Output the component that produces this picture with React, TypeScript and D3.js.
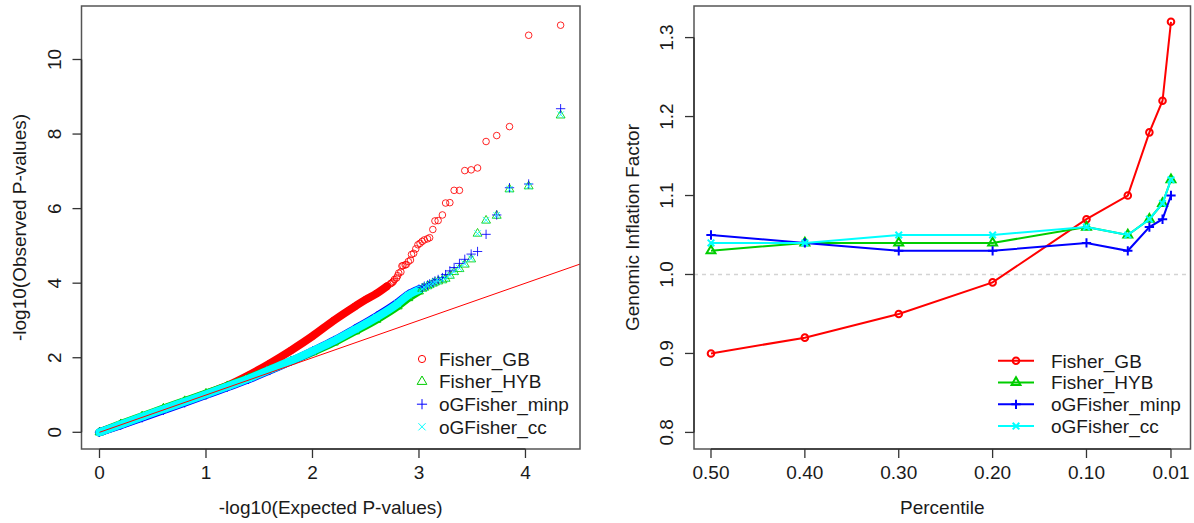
import React from "react";
import * as d3 from "d3";

// ---------- DATA ----------
const seriesNames = ["Fisher_GB", "Fisher_HYB", "oGFisher_minp", "oGFisher_cc"];
const seriesColors = ["#FF0000", "#00CD00", "#0000FF", "#00FFFF"];

// Left panel (QQ plot): dense bulk read along each band
const gbBulkExp = [0, 0.2, 0.4, 0.6, 0.8, 1.0, 1.2, 1.4, 1.6, 1.8, 2.0, 2.2, 2.4, 2.5, 2.6, 2.7];
const gbBulkObs = [0, 0.2, 0.41, 0.62, 0.82, 1.03, 1.25, 1.53, 1.85, 2.2, 2.58, 3.0, 3.38, 3.56, 3.72, 3.92];

const othBulkExp = [0, 0.2, 0.4, 0.6, 0.8, 1.0, 1.2, 1.4, 1.6, 1.8, 2.0, 2.2, 2.4, 2.6, 2.8, 2.9, 3.0];
const hybBulkObs = [0, 0.22, 0.43, 0.64, 0.84, 1.04, 1.24, 1.45, 1.68, 1.91, 2.15, 2.41, 2.71, 3.02, 3.38, 3.6, 3.78];
const minpBulkObs = [0, 0.19, 0.39, 0.59, 0.79, 1.0, 1.21, 1.42, 1.66, 1.91, 2.18, 2.46, 2.78, 3.11, 3.48, 3.7, 3.84];
const ccBulkObs = [0, 0.21, 0.42, 0.62, 0.82, 1.02, 1.23, 1.44, 1.68, 1.92, 2.18, 2.45, 2.76, 3.08, 3.45, 3.68, 3.82];

// Left panel: individually visible tail points
const tailExp = [4.33, 4.03, 3.85, 3.73, 3.63, 3.55, 3.49, 3.43, 3.38, 3.33, 3.29, 3.25, 3.22, 3.18, 3.15, 3.13, 3.10, 3.08, 3.05, 3.03,
  3.01, 2.99, 2.97, 2.95, 2.93, 2.92, 2.90, 2.88, 2.87, 2.85, 2.84, 2.83, 2.81, 2.80, 2.79, 2.77, 2.76, 2.75, 2.74, 2.73];
const gbTail = [10.92, 10.65, 8.2, 7.96, 7.8, 7.09, 7.04, 7.02, 6.49, 6.49, 6.16, 6.15, 5.83, 5.68, 5.67, 5.44, 5.22, 5.19, 5.16, 5.12,
  5.07, 5.03, 4.92, 4.8, 4.77, 4.62, 4.58, 4.5, 4.49, 4.47, 4.46, 4.3, 4.27, 4.2, 4.14, 4.1, 4.05, 4.02, 4.0, 3.98];
const hybTail = [8.5, 6.6, 6.52, 5.81, 5.68, 5.33, 4.64, 4.5, 4.38, 4.3, 4.2, 4.12, 4.08, 4.05, 4.02, 3.99, 3.95, 3.92, 3.88, 3.85];
const minpTail = [8.68, 6.66, 6.56, 5.83, 5.31, 4.85, 4.78, 4.64, 4.53, 4.42, 4.33, 4.23, 4.15, 4.1, 4.06, 4.02, 3.98, 3.95, 3.92, 3.88];
const ccTail = [8.52, 6.6, 6.52, 5.82, 5.69, 5.33, 4.66, 4.52, 4.4, 4.31, 4.21, 4.13, 4.09, 4.06, 4.03, 3.99, 3.96, 3.93, 3.89, 3.85];

const leftXTicks = [0, 1, 2, 3, 4];
const leftYTicks = [0, 2, 4, 6, 8, 10];

// Right panel: genomic inflation factor by percentile
const percentiles = [0.5, 0.4, 0.3, 0.2, 0.1, 0.056, 0.033, 0.019, 0.01];
const gifGB = [0.9, 0.92, 0.95, 0.99, 1.07, 1.1, 1.18, 1.22, 1.32];
const gifHYB = [1.03, 1.04, 1.04, 1.04, 1.06, 1.05, 1.07, 1.09, 1.12];
const gifMinp = [1.05, 1.04, 1.03, 1.03, 1.04, 1.03, 1.06, 1.07, 1.1];
const gifCC = [1.04, 1.04, 1.05, 1.05, 1.06, 1.05, 1.07, 1.09, 1.12];

const rightXTicks = [0.5, 0.4, 0.3, 0.2, 0.1, 0.01];
const rightXTickLabels = ["0.50", "0.40", "0.30", "0.20", "0.10", "0.01"];
const rightYTicks = [0.8, 0.9, 1.0, 1.1, 1.2, 1.3];

// ---------- LAYOUT ----------
const W = 1194, H = 523;
const FONT = "'Liberation Sans', Arial, Helvetica, sans-serif";
const FS = 19;
const TXT = "#1a1a1a";

const xL = d3.scaleLinear().domain([-0.169, 4.512]).range([81.5, 580]);
const yL = d3.scaleLinear().domain([-0.448, 11.435]).range([449, 6]);
const xR = d3.scaleLinear().domain([0.5181, -0.0108]).range([694, 1190.5]);
const yR = d3.scaleLinear().domain([0.779, 1.34]).range([449, 6]);

function markerPath(pch: number, x: number, y: number, R: number): string {
  if (pch === 1) {
    return `M${x - R},${y}a${R},${R} 0 1,0 ${2 * R},0a${R},${R} 0 1,0 ${-2 * R},0Z`;
  }
  if (pch === 2) {
    const r = 1.555 * R, xc = 1.3468 * R, yc = 0.7775 * R;
    return `M${x},${y - r}L${x + xc},${y + yc}L${x - xc},${y + yc}Z`;
  }
  if (pch === 3) {
    const h = 1.4142 * R;
    return `M${x - h},${y}H${x + h}M${x},${y - h}V${y + h}`;
  }
  return `M${x - R},${y - R}L${x + R},${y + R}M${x - R},${y + R}L${x + R},${y - R}`;
}

const pchs = [1, 2, 3, 4];

export default function App() {
  const bulk = [
    { exp: gbBulkExp, obs: gbBulkObs },
    { exp: othBulkExp, obs: hybBulkObs },
    { exp: othBulkExp, obs: minpBulkObs },
    { exp: othBulkExp, obs: ccBulkObs },
  ];
  const tails = [gbTail, hybTail, minpTail, ccTail];
  const gif = [gifGB, gifHYB, gifMinp, gifCC];

  const bandLine = d3
    .line<[number, number]>()
    .x((d) => xL(d[0]))
    .y((d) => yL(d[1]))
    .curve(d3.curveMonotoneX);

  const rLine = d3
    .line<[number, number]>()
    .x((d) => xR(d[0]))
    .y((d) => yR(d[1]));

  const RL = 3.3;
  const RR = 3.3;

  return (
    <>
      <style>{`body{margin:0}`}</style>
      <svg width={W} height={H} style={{ display: "block", background: "#fff" }} fontFamily={FONT}>
        {/* ===== LEFT PANEL ===== */}
        <g>
          {bulk.map((b, si) => {
            const pts: [number, number][] = b.exp.map((e, i) => [e, b.obs[i]]);
            return (
              <g key={"band" + si}>
                <path d={bandLine(pts) || ""} fill="none" stroke={seriesColors[si]} strokeWidth={8} strokeLinecap="round" strokeLinejoin="round" />
                {pts.map((p, i) => (
                  <path key={i} d={markerPath(pchs[si], xL(p[0]), yL(p[1]), RL)} fill="none" stroke={seriesColors[si]} strokeWidth={1} />
                ))}
              </g>
            );
          })}
          {tails.map((t, si) => (
            <g key={"tail" + si}>
              {t.map((o, i) => (
                <path key={i} d={markerPath(pchs[si], xL(tailExp[i]), yL(o), RL)} fill="none" stroke={seriesColors[si]} strokeWidth={1} opacity={0.85} />
              ))}
            </g>
          ))}
          {/* y = x reference line */}
          <line x1={xL(0)} y1={yL(0)} x2={xL(4.512)} y2={yL(4.512)} stroke="#FF0000" strokeWidth={1} />
          {/* box */}
          <rect x={81.5} y={6} width={580 - 81.5} height={449 - 6} fill="none" stroke="#555" strokeWidth={1.5} />
          {/* x axis */}
          <line x1={xL(leftXTicks[0])} x2={xL(leftXTicks[leftXTicks.length - 1])} y1={449} y2={449} stroke="#333" strokeWidth={1.5} />
          {leftXTicks.map((t) => (
            <g key={"lx" + t}>
              <line x1={xL(t)} x2={xL(t)} y1={449} y2={458} stroke="#333" strokeWidth={1.3} />
              <text x={xL(t)} y={479} textAnchor="middle" fontSize={FS} fill={TXT}>{t}</text>
            </g>
          ))}
          {/* y axis */}
          <line x1={81.5} x2={81.5} y1={yL(leftYTicks[0])} y2={yL(leftYTicks[leftYTicks.length - 1])} stroke="#333" strokeWidth={1.5} />
          {leftYTicks.map((t) => (
            <g key={"ly" + t}>
              <line x1={81.5} x2={72.5} y1={yL(t)} y2={yL(t)} stroke="#333" strokeWidth={1.3} />
              <text transform={`translate(60.5,${yL(t)}) rotate(-90)`} textAnchor="middle" fontSize={FS} fill={TXT}>{t}</text>
            </g>
          ))}
          <text x={330.75} y={514} textAnchor="middle" fontSize={FS} fill={TXT}>-log10(Expected P-values)</text>
          <text transform={`translate(25.5,227.5) rotate(-90)`} textAnchor="middle" fontSize={FS} fill={TXT}>-log10(Observed P-values)</text>
          {/* legend */}
          {seriesNames.map((n, i) => {
            const yy = 359 + i * 22.6;
            return (
              <g key={"ll" + n}>
                <path d={markerPath(pchs[i], 422, yy, 3.6)} fill="none" stroke={seriesColors[i]} strokeWidth={1} />
                <text x={439} y={yy + 6.8} fontSize={FS} fill={TXT}>{n}</text>
              </g>
            );
          })}
        </g>

        {/* ===== RIGHT PANEL ===== */}
        <g>
          <line x1={694} x2={1190.5} y1={yR(1.0)} y2={yR(1.0)} stroke="#d3d3d3" strokeWidth={1.5} strokeDasharray="4,4" />
          {gif.map((vals, si) => {
            const pts: [number, number][] = percentiles.map((p, i) => [p, vals[i]]);
            return (
              <g key={"gif" + si}>
                <path d={rLine(pts) || ""} fill="none" stroke={seriesColors[si]} strokeWidth={2} />
                {pts.map((p, i) => (
                  <path key={i} d={markerPath(pchs[si], xR(p[0]), yR(p[1]), RR)} fill="none" stroke={seriesColors[si]} strokeWidth={2} />
                ))}
              </g>
            );
          })}
          <rect x={694} y={6} width={1190.5 - 694} height={449 - 6} fill="none" stroke="#555" strokeWidth={1.5} />
          <line x1={xR(rightXTicks[0])} x2={xR(rightXTicks[rightXTicks.length - 1])} y1={449} y2={449} stroke="#333" strokeWidth={1.5} />
          {rightXTicks.map((t, i) => (
            <g key={"rx" + t}>
              <line x1={xR(t)} x2={xR(t)} y1={449} y2={458} stroke="#333" strokeWidth={1.3} />
              <text x={xR(t)} y={479} textAnchor="middle" fontSize={FS} fill={TXT}>{rightXTickLabels[i]}</text>
            </g>
          ))}
          <line x1={694} x2={694} y1={yR(rightYTicks[0])} y2={yR(rightYTicks[rightYTicks.length - 1])} stroke="#333" strokeWidth={1.5} />
          {rightYTicks.map((t) => (
            <g key={"ry" + t}>
              <line x1={694} x2={685} y1={yR(t)} y2={yR(t)} stroke="#333" strokeWidth={1.3} />
              <text transform={`translate(673,${yR(t)}) rotate(-90)`} textAnchor="middle" fontSize={FS} fill={TXT}>{t.toFixed(1)}</text>
            </g>
          ))}
          <text x={942.25} y={514} textAnchor="middle" fontSize={FS} fill={TXT}>Percentile</text>
          <text transform={`translate(638.5,227.5) rotate(-90)`} textAnchor="middle" fontSize={FS} fill={TXT}>Genomic Inflation Factor</text>
          {seriesNames.map((n, i) => {
            const yy = 360.7 + i * 21.8;
            return (
              <g key={"rl" + n}>
                <line x1={998} x2={1034} y1={yy} y2={yy} stroke={seriesColors[i]} strokeWidth={2} />
                <path d={markerPath(pchs[i], 1016, yy, RR)} fill="none" stroke={seriesColors[i]} strokeWidth={2} />
                <text x={1051} y={yy + 6.8} fontSize={FS} fill={TXT}>{n}</text>
              </g>
            );
          })}
        </g>
      </svg>
    </>
  );
}
